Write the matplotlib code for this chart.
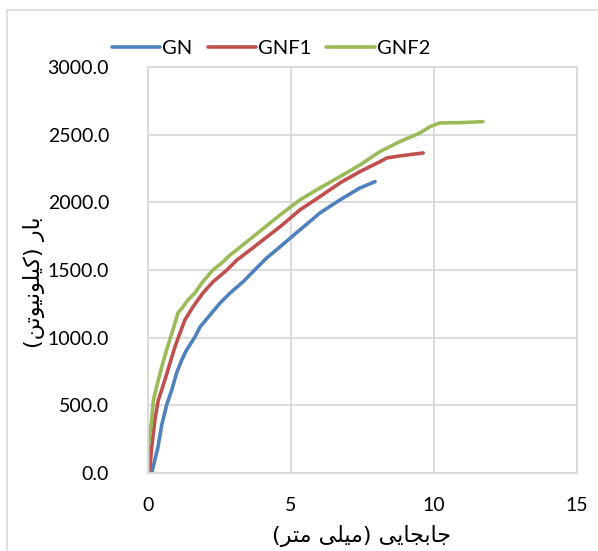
import matplotlib
matplotlib.use("Agg")
import matplotlib.pyplot as plt
from matplotlib.patches import Rectangle

# data (displacement mm, load kN)
gn_x = [0, 0.13, 0.24, 0.35, 0.48, 0.65, 0.83, 1.0, 1.18, 1.35, 1.64, 1.82, 2.17, 2.52,
        2.87, 3.32, 3.80, 4.15, 4.62, 5.31, 6.01, 6.71, 7.41, 7.94]
gn_y = [0, 0, 96, 192, 355, 502, 613, 739, 835, 909, 1005, 1079, 1168, 1256,
        1330, 1412, 1515, 1589, 1672, 1796, 1921, 2018, 2106, 2153]

gnf1_x = [0, 0.07, 0.13, 0.24, 0.36, 0.42, 0.59, 0.77, 0.94, 1.12, 1.29, 1.57, 1.92, 2.27,
          2.76, 3.11, 3.57, 4.62, 5.31, 6.01, 6.71, 7.41, 8.11, 8.35, 8.81, 9.62]
gnf1_y = [0, 44, 192, 392, 540, 576, 687, 813, 931, 1035, 1131, 1227, 1330, 1412,
          1500, 1574, 1648, 1820, 1944, 2042, 2143, 2227, 2300, 2328, 2343, 2365]

gnf2_x = [0, 0.01, 0.13, 0.19, 0.30, 0.48, 0.65, 0.87, 1.05, 1.22, 1.40, 1.64, 1.88, 2.27,
          2.58, 2.87, 3.10, 4.62, 5.31, 6.01, 6.71, 7.41, 8.11, 8.81, 9.51, 9.86, 10.21,
          10.91, 11.71]
gnf2_y = [0, 192, 392, 540, 636, 783, 909, 1057, 1183, 1227, 1279, 1330, 1404, 1500,
          1552, 1611, 1648, 1907, 2018, 2106, 2190, 2276, 2375, 2449, 2513, 2559, 2587,
          2589, 2596]

series_names = ["GN", "GNF1", "GNF2"]
colors = ["#4F81BD", "#C0504D", "#9BBB59"]
x_ticks = [0, 5, 10, 15]
y_ticks = [0, 500, 1000, 1500, 2000, 2500, 3000]
x_label = "جابجایی (میلی متر)"
y_label = "بار (کیلونیوتن)"

# minimal Persian shaping: presentation forms (iso, fin, ini, med)
FORMS = {
    "ا": ("\uFE8D", "\uFE8E", None, None),
    "ب": ("\uFE8F", "\uFE90", "\uFE91", "\uFE92"),
    "ت": ("\uFE95", "\uFE96", "\uFE97", "\uFE98"),
    "ج": ("\uFE9D", "\uFE9E", "\uFE9F", "\uFEA0"),
    "ر": ("\uFEAD", "\uFEAE", None, None),
    "ل": ("\uFEDD", "\uFEDE", "\uFEDF", "\uFEE0"),
    "م": ("\uFEE1", "\uFEE2", "\uFEE3", "\uFEE4"),
    "ن": ("\uFEE5", "\uFEE6", "\uFEE7", "\uFEE8"),
    "و": ("\uFEED", "\uFEEE", None, None),
    "ی": ("\uFBFC", "\uFBFD", "\uFBFE", "\uFBFF"),
    "ک": ("\uFB8E", "\uFB8F", "\uFB90", "\uFB91"),
}


def shape(text):
    out = []
    for i, ch in enumerate(text):
        if ch not in FORMS:
            out.append(ch)
            continue
        prev = text[i - 1] if i > 0 else ""
        nxt = text[i + 1] if i + 1 < len(text) else ""
        join_prev = prev in FORMS and FORMS[prev][2] is not None
        join_next = FORMS[ch][2] is not None and nxt in FORMS
        f = FORMS[ch]
        if join_prev and join_next:
            out.append(f[3])
        elif join_prev:
            out.append(f[1])
        elif join_next:
            out.append(f[2])
        else:
            out.append(f[0])
    mirror = {"(": ")", ")": "("}
    return "".join(mirror.get(c, c) for c in reversed(out))


plt.rcParams["font.family"] = ["Lato", "DejaVu Sans"]

fig = plt.figure(figsize=(5.98, 5.51), dpi=100)
ax = fig.add_axes([148 / 598, 1 - 473 / 551, 429 / 598, 406 / 551])

for xs, ys, name, c in zip([gn_x, gnf1_x, gnf2_x], [gn_y, gnf1_y, gnf2_y], series_names, colors):
    ax.plot(xs, ys, color=c, lw=2.6, label=name, solid_capstyle="round")

ax.set_xlim(0, 15)
ax.set_ylim(0, 3000)
ax.set_xticks(x_ticks)
ax.set_yticks(y_ticks)
ax.set_yticklabels([f"{v:.1f}" for v in y_ticks])
ax.tick_params(length=0, labelsize=14)
ax.tick_params(axis="x", pad=17)
ax.tick_params(axis="y", pad=28)
ax.grid(True, color="#D9D9D9", lw=1.3)
ax.set_axisbelow(True)
for s in ax.spines.values():
    s.set_color("#D9D9D9")
    s.set_linewidth(1.3)

fig.legend(loc="center", bbox_to_anchor=(271 / 598, 1 - 48 / 551), ncol=3, frameon=False,
           fontsize=14.5, handlelength=2.4, columnspacing=0.75, handletextpad=0.1,
           handleheight=0.5)

fig.text(362 / 598, 1 - 536 / 551, shape(x_label), ha="center", va="center",
         fontsize=16, family="DejaVu Sans")
fig.text(34 / 598, 1 - 282 / 551, shape(y_label), ha="center", va="center",
         rotation=90, fontsize=16, family="DejaVu Sans")

fig.patches.append(Rectangle((7 / 598, -0.1), 1.2, 1 - 10 / 551 + 0.1, transform=fig.transFigure,
                             fill=False, edgecolor="#D9D9D9", lw=1.2))

fig.savefig("out.png", dpi=100)
